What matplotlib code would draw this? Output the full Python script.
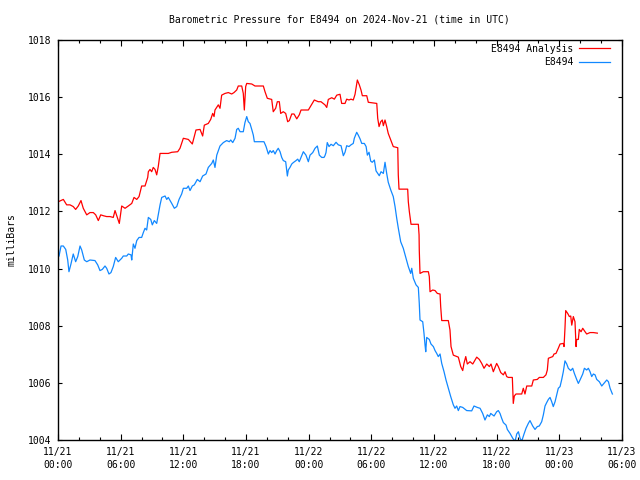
import matplotlib
matplotlib.use("Agg")
import matplotlib.pyplot as plt
from matplotlib.ticker import MultipleLocator

# hours since 2024-11-21 00:00 UTC
analysis_hours = [0.03, 0.51, 0.83, 1.15, 1.46, 1.69, 1.94, 2.20, 2.42, 2.75, 3.06, 3.38, 3.61, 3.86, 4.09, 4.34,
    4.66, 4.98, 5.29, 5.46, 5.68, 5.87, 6.10, 6.42, 6.73, 7.06, 7.28, 7.54, 7.76, 8.01, 8.33, 8.59, 8.65, 8.81,
    8.97, 9.12, 9.29, 9.45, 9.60, 9.77, 10.56, 10.89, 11.46, 11.68, 12.00, 12.48, 12.86, 13.05, 13.21, 13.60,
    13.85, 14.01, 14.39, 14.62, 14.81, 14.94, 15.03, 15.35, 15.51, 15.67, 15.99, 16.31, 16.63, 16.85, 17.11,
    17.26, 17.59, 17.74, 17.84, 17.97, 18.07, 18.55, 18.86, 19.66, 19.82, 20.04, 20.46, 20.61, 20.84, 21.00,
    21.19, 21.32, 21.57, 21.80, 21.99, 22.15, 22.38, 22.60, 22.86, 23.10, 23.27, 23.97, 24.20, 24.54, 24.92,
    25.18, 25.56, 25.73, 25.88, 26.21, 26.46, 26.69, 27.00, 27.16, 27.48, 27.64, 27.86, 28.05, 28.27, 28.44,
    28.53, 28.66, 28.85, 29.01, 29.14, 29.56, 29.71, 30.52, 30.61, 30.74, 30.90, 31.05, 31.15, 31.31, 31.47,
    31.62, 31.86, 32.10, 32.53, 32.58, 32.65, 33.48, 33.54, 33.64, 33.80, 34.50, 34.57, 34.59, 34.66, 34.98,
    35.46, 35.55, 35.62, 35.88, 36.10, 36.32, 36.58, 36.64, 36.74, 37.37, 37.53, 37.63, 37.85, 38.33, 38.56,
    38.75, 38.87, 39.04, 39.19, 39.45, 39.71, 39.93, 40.09, 40.34, 40.57, 40.79, 41.05, 41.30, 41.46, 41.68,
    41.84, 42.00, 42.16, 42.39, 42.64, 42.80, 42.96, 43.12, 43.50, 43.54, 43.59, 43.69, 43.85, 44.40, 44.55,
    44.71, 44.88, 45.36, 45.51, 45.89, 46.08, 46.47, 46.72, 46.85, 46.95, 47.37, 47.49, 47.68, 47.90, 48.07,
    48.38, 48.45, 48.54, 48.61, 48.80, 48.96, 49.09, 49.19, 49.34, 49.50, 49.60, 49.66, 49.82, 49.91, 50.08,
    50.24, 50.46, 50.62, 50.94, 51.26, 51.64]
analysis_mb = [1012.34, 1012.42, 1012.23, 1012.23, 1012.17, 1012.07, 1012.19, 1012.38, 1012.11, 1011.88,
    1011.96, 1011.96, 1011.88, 1011.68, 1011.88, 1011.85, 1011.82, 1011.82, 1011.79, 1012.03, 1011.79, 1011.58,
    1012.19, 1012.11, 1012.19, 1012.28, 1012.49, 1012.42, 1012.52, 1012.89, 1012.89, 1013.19, 1013.39, 1013.47,
    1013.39, 1013.54, 1013.47, 1013.28, 1013.57, 1014.03, 1014.03, 1014.07, 1014.09, 1014.21, 1014.56, 1014.52,
    1014.36, 1014.62, 1014.85, 1014.87, 1014.64, 1015.02, 1015.08, 1015.22, 1015.43, 1015.32, 1015.55, 1015.73,
    1015.61, 1016.07, 1016.13, 1016.16, 1016.11, 1016.16, 1016.25, 1016.39, 1016.39, 1016.13, 1015.55, 1016.37,
    1016.48, 1016.46, 1016.39, 1016.39, 1016.19, 1015.96, 1015.92, 1015.49, 1015.61, 1015.84, 1015.84, 1015.43,
    1015.49, 1015.43, 1015.14, 1015.18, 1015.41, 1015.41, 1015.24, 1015.38, 1015.55, 1015.55, 1015.69, 1015.90,
    1015.84, 1015.84, 1015.73, 1015.64, 1015.92, 1015.98, 1015.93, 1016.07, 1016.10, 1015.78, 1015.78, 1015.93,
    1015.90, 1015.93, 1015.90, 1016.10, 1016.31, 1016.60, 1016.43, 1016.25, 1016.05, 1016.05, 1015.82, 1015.78,
    1015.26, 1014.97, 1015.14, 1015.20, 1015.00, 1015.20, 1014.97, 1014.73, 1014.50, 1014.27, 1014.23, 1013.28,
    1012.78, 1012.78, 1012.34, 1011.99, 1011.55, 1011.55, 1011.18, 1010.65, 1009.83, 1009.89, 1009.89, 1009.72,
    1009.19, 1009.25, 1009.23, 1009.13, 1009.11, 1008.67, 1008.18, 1008.18, 1007.85, 1007.27, 1006.97, 1006.90,
    1006.57, 1006.43, 1006.68, 1006.92, 1006.66, 1006.74, 1006.66, 1006.80, 1006.90, 1006.82, 1006.68, 1006.51,
    1006.66, 1006.57, 1006.66, 1006.39, 1006.54, 1006.68, 1006.57, 1006.36, 1006.28, 1006.39, 1006.22, 1006.19,
    1006.19, 1005.77, 1005.28, 1005.54, 1005.61, 1005.61, 1005.81, 1005.61, 1005.89, 1005.89, 1006.10, 1006.12,
    1006.19, 1006.19, 1006.28, 1006.45, 1006.86, 1006.92, 1007.01, 1007.03, 1007.21, 1007.36, 1007.38, 1007.27,
    1007.91, 1008.53, 1008.43, 1008.32, 1008.34, 1008.02, 1008.32, 1008.14, 1007.27, 1007.52, 1007.52, 1007.87,
    1007.79, 1007.91, 1007.79, 1007.71, 1007.76, 1007.76, 1007.74]

obs_hours = [0.10, 0.29, 0.51, 0.74, 0.93, 1.05, 1.24, 1.46, 1.69, 1.89, 2.11, 2.27, 2.52, 2.75, 3.06, 3.54,
    3.80, 4.02, 4.24, 4.50, 4.66, 4.88, 5.07, 5.29, 5.52, 5.77, 6.10, 6.25, 6.58, 6.73, 6.99, 7.06, 7.21, 7.37,
    7.54, 7.76, 8.01, 8.17, 8.33, 8.49, 8.65, 8.88, 9.03, 9.22, 9.45, 9.60, 9.77, 9.93, 10.25, 10.41, 10.56,
    10.89, 11.14, 11.37, 11.59, 11.84, 12.00, 12.32, 12.48, 12.64, 12.86, 13.05, 13.34, 13.60, 13.85, 14.17,
    14.39, 14.72, 14.87, 15.03, 15.20, 15.51, 15.83, 16.15, 16.40, 16.54, 16.73, 16.95, 17.11, 17.26, 17.43,
    17.74, 17.90, 18.07, 18.22, 18.38, 18.55, 18.70, 18.80, 19.03, 19.72, 19.92, 20.14, 20.30, 20.46, 20.61,
    20.78, 20.94, 21.09, 21.26, 21.42, 21.57, 21.80, 21.96, 22.05, 22.21, 22.38, 22.53, 22.79, 22.95, 23.10,
    23.27, 23.49, 23.74, 23.97, 24.13, 24.39, 24.61, 24.83, 25.02, 25.25, 25.47, 25.56, 25.66, 25.78, 25.95,
    26.14, 26.36, 26.62, 26.84, 27.10, 27.32, 27.48, 27.64, 27.86, 28.05, 28.27, 28.37, 28.60, 28.75, 28.92,
    29.08, 29.33, 29.50, 29.62, 29.78, 29.94, 30.09, 30.29, 30.45, 30.61, 30.76, 30.93, 31.15, 31.31, 31.47,
    31.62, 31.86, 32.10, 32.27, 32.43, 32.58, 32.81, 33.06, 33.32, 33.54, 33.77, 33.87, 34.02, 34.28, 34.50,
    34.59, 34.66, 34.92, 35.04, 35.14, 35.21, 35.30, 35.55, 35.71, 35.94, 36.10, 36.26, 36.41, 36.58, 36.74,
    36.96, 37.15, 37.37, 37.60, 37.85, 38.01, 38.17, 38.33, 38.49, 38.75, 39.13, 39.61, 39.83, 40.15, 40.41,
    40.66, 40.88, 41.11, 41.30, 41.43, 41.75, 42.00, 42.16, 42.32, 42.48, 42.64, 42.90, 43.02, 43.28, 43.54,
    43.76, 43.92, 44.08, 44.24, 44.40, 44.62, 44.81, 45.03, 45.19, 45.45, 45.67, 45.89, 46.08, 46.31, 46.47,
    46.63, 46.79, 46.95, 47.11, 47.27, 47.42, 47.59, 47.75, 47.90, 48.07, 48.23, 48.38, 48.54, 48.71, 48.86,
    49.09, 49.28, 49.44, 49.66, 49.82, 49.98, 50.24, 50.40, 50.62, 50.78, 50.94, 51.10, 51.26, 51.42, 51.58,
    51.83, 52.06, 52.26, 52.54, 52.70, 52.86, 53.08]
obs_mb = [1010.44, 1010.79, 1010.79, 1010.67, 1010.30, 1009.89, 1010.16, 1010.51, 1010.24, 1010.42, 1010.79,
    1010.65, 1010.30, 1010.24, 1010.30, 1010.28, 1010.13, 1009.93, 1009.97, 1010.09, 1010.01, 1009.81, 1009.86,
    1010.07, 1010.39, 1010.24, 1010.36, 1010.44, 1010.44, 1010.51, 1010.48, 1010.30, 1010.86, 1010.71, 1010.98,
    1011.09, 1011.09, 1011.26, 1011.41, 1011.35, 1011.79, 1011.72, 1011.53, 1011.68, 1011.58, 1011.88, 1012.23,
    1012.49, 1012.54, 1012.42, 1012.49, 1012.28, 1012.11, 1012.17, 1012.42, 1012.61, 1012.81, 1012.81, 1012.89,
    1012.73, 1012.89, 1012.93, 1013.12, 1013.04, 1013.24, 1013.31, 1013.54, 1013.68, 1013.80, 1013.54, 1013.97,
    1014.29, 1014.41, 1014.48, 1014.44, 1014.50, 1014.41, 1014.56, 1014.87, 1014.91, 1014.79, 1014.79, 1015.11,
    1015.32, 1015.14, 1015.08, 1014.87, 1014.67, 1014.44, 1014.44, 1014.44, 1014.27, 1014.01, 1014.13, 1014.06,
    1014.13, 1014.01, 1014.13, 1014.21, 1014.09, 1013.89, 1013.78, 1013.74, 1013.24, 1013.45, 1013.54, 1013.66,
    1013.71, 1013.78, 1013.83, 1013.74, 1013.89, 1014.09, 1013.97, 1013.74, 1013.97, 1014.06, 1014.21, 1014.29,
    1013.97, 1013.89, 1013.89, 1013.95, 1014.06, 1014.41, 1014.27, 1014.35, 1014.30, 1014.42, 1014.33, 1014.30,
    1013.95, 1014.07, 1014.30, 1014.27, 1014.33, 1014.38, 1014.56, 1014.77, 1014.67, 1014.54, 1014.38, 1014.38,
    1014.27, 1013.97, 1014.07, 1013.76, 1013.72, 1013.80, 1013.42, 1013.33, 1013.25, 1013.39, 1013.33, 1013.72,
    1013.33, 1013.02, 1012.75, 1012.52, 1012.17, 1011.76, 1011.42, 1010.94, 1010.71, 1010.36, 1010.07, 1009.83,
    1010.01, 1009.66, 1009.43, 1009.34, 1008.78, 1008.20, 1008.14, 1007.74, 1007.33, 1007.09, 1007.59, 1007.52,
    1007.36, 1007.27, 1007.13, 1007.03, 1006.92, 1007.01, 1006.68, 1006.39, 1006.10, 1005.81, 1005.52, 1005.23,
    1005.11, 1005.19, 1005.03, 1005.17, 1005.14, 1005.03, 1005.02, 1005.19, 1005.14, 1005.11, 1004.93, 1004.70,
    1004.88, 1004.82, 1004.93, 1004.84, 1004.99, 1005.03, 1004.93, 1004.76, 1004.61, 1004.52, 1004.37, 1004.23,
    1004.06, 1003.95, 1004.21, 1004.29, 1004.06, 1003.96, 1004.21, 1004.41, 1004.58, 1004.68, 1004.49, 1004.37,
    1004.47, 1004.49, 1004.64, 1004.88, 1005.19, 1005.31, 1005.42, 1005.49, 1005.34, 1005.17, 1005.34, 1005.58,
    1005.81, 1005.87, 1006.12, 1006.39, 1006.77, 1006.66, 1006.51, 1006.43, 1006.51, 1006.33, 1006.12, 1005.98,
    1006.10, 1006.31, 1006.51, 1006.45, 1006.51, 1006.39, 1006.22, 1006.31, 1006.28, 1006.12, 1006.04, 1005.89,
    1005.98, 1006.10, 1006.04, 1005.81, 1005.61]

x_tick_hours = [0, 6, 12, 18, 24, 30, 36, 42, 48, 54]
x_tick_labels = ["11/21\n00:00", "11/21\n06:00", "11/21\n12:00", "11/21\n18:00", "11/22\n00:00",
                 "11/22\n06:00", "11/22\n12:00", "11/22\n18:00", "11/23\n00:00", "11/23\n06:00"]
y_ticks = [1004, 1006, 1008, 1010, 1012, 1014, 1016, 1018]

FONT = "DejaVu Sans Mono"
FS = 7

fig = plt.figure(figsize=(6.4, 4.8), dpi=100)
ax = fig.add_axes([58/640, 1-440/480, 564/640, 400/480])

ax.plot(analysis_hours, analysis_mb, color="#ff0000", lw=0.9, label="E8494 Analysis")
ax.plot(obs_hours, obs_mb, color="#1188ff", lw=0.9, label="E8494")

ax.set_xlim(0, 54)
ax.set_ylim(1004, 1018)
ax.set_xticks(x_tick_hours)
ax.set_xticklabels(x_tick_labels, fontfamily=FONT, fontsize=FS, linespacing=1.35)
ax.xaxis.set_minor_locator(MultipleLocator(2))
ax.set_yticks(y_ticks)
ax.set_yticklabels([str(v) for v in y_ticks], fontfamily=FONT, fontsize=FS)

ax.tick_params(which="both", direction="in", top=True, right=True, width=0.8, color="black")
ax.tick_params(axis="x", which="major", length=4.5, pad=5)
ax.tick_params(axis="x", which="minor", length=2.5)
ax.tick_params(axis="y", which="major", length=3, pad=5)
for s in ax.spines.values():
    s.set_linewidth(1.0)

ax.set_ylabel("milliBars", fontfamily=FONT, fontsize=FS, labelpad=8)
fig.text(339/640, 1-19/480, "Barometric Pressure for E8494 on 2024-Nov-21 (time in UTC)",
         ha="center", va="center", fontfamily=FONT, fontsize=FS)

leg = ax.legend(loc="upper right", bbox_to_anchor=(1 - 8/564, 1.0), frameon=False,
                markerfirst=False, handlelength=3.2, handletextpad=0.6, labelspacing=0.35,
                borderaxespad=0.0, prop={"family": FONT, "size": FS})

fig.savefig("out.png", dpi=100)
